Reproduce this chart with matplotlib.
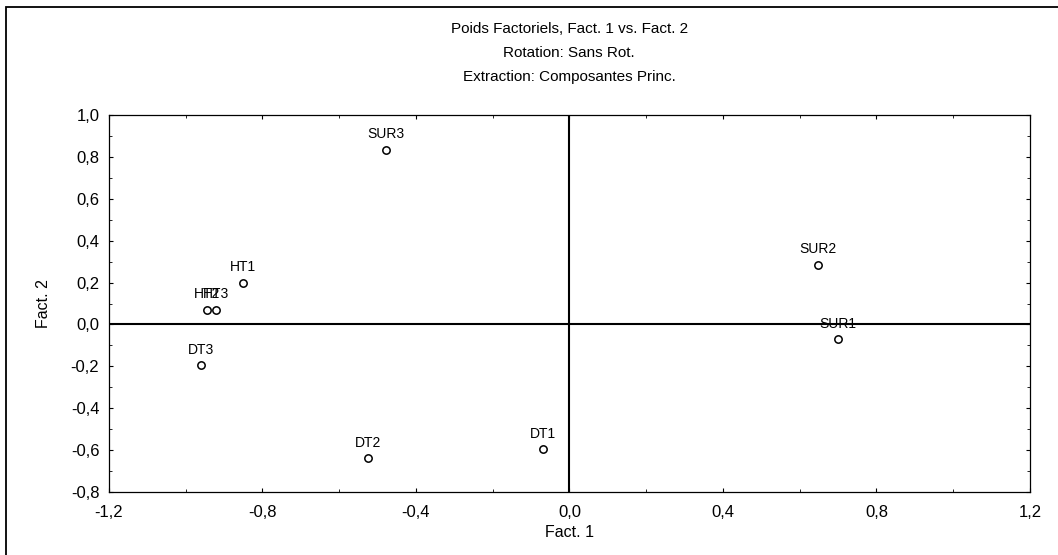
import matplotlib
matplotlib.use('Agg')
import matplotlib.pyplot as plt
from matplotlib.ticker import MultipleLocator, FuncFormatter
from matplotlib.patches import Rectangle

plt.rcParams['font.family'] = ['Liberation Sans', 'DejaVu Sans']

# factor loadings
variables = ['SUR3', 'HT1', 'HT2', 'HT3', 'DT3', 'SUR2', 'SUR1', 'DT1', 'DT2']
fact1 = [-0.478, -0.851, -0.945, -0.922, -0.961, 0.648, 0.700, -0.068, -0.525]
fact2 = [0.835, 0.200, 0.070, 0.070, -0.195, 0.285, -0.070, -0.597, -0.640]

title_lines = ['Poids Factoriels, Fact. 1 vs. Fact. 2',
               'Rotation: Sans Rot.',
               'Extraction: Composantes Princ.']

fig = plt.figure(figsize=(10.58, 5.55), dpi=100)
ax = fig.add_axes([0.103, 0.1135, 0.8705, 0.6793])

# zero reference lines
ax.axhline(0, color='black', lw=1.5, zorder=1)
ax.axvline(0, color='black', lw=1.5, zorder=1)

ax.scatter(fact1, fact2, s=28, facecolors='white', edgecolors='black', linewidths=1.1, zorder=3)
for name, x, y in zip(variables, fact1, fact2):
    ax.annotate(name, (x, y), xytext=(0, 6), textcoords='offset points',
                ha='center', va='bottom', fontsize=10)

ax.set_xlim(-1.2, 1.2)
ax.set_ylim(-0.8, 1.0)
ax.xaxis.set_major_locator(MultipleLocator(0.4))
ax.yaxis.set_major_locator(MultipleLocator(0.2))
ax.xaxis.set_minor_locator(MultipleLocator(0.2))
ax.yaxis.set_minor_locator(MultipleLocator(0.1))
comma = FuncFormatter(lambda v, p: f'{v:.1f}'.replace('.', ',').replace('-0,0', '0,0'))
ax.xaxis.set_major_formatter(comma)
ax.yaxis.set_major_formatter(comma)
ax.tick_params(which='both', direction='in', top=True, right=True, labelsize=12)
ax.tick_params(axis='x', pad=9)
ax.tick_params(axis='y', pad=7)
ax.tick_params(which='major', length=3, width=0.8)
ax.tick_params(which='minor', length=2, width=0.6)
for s in ax.spines.values():
    s.set_linewidth(0.9)

ax.set_xlabel('Fact. 1', fontsize=11.5, labelpad=4)
ax.set_ylabel('Fact. 2', fontsize=11.5, labelpad=14)

for i, line in enumerate(title_lines):
    fig.text(0.538, 0.947 - i * 0.043, line, ha='center', va='center', fontsize=11)

# outer frame of the exported graph
fig.patches.append(Rectangle((0.006, -0.05), 1.2, 1.037, transform=fig.transFigure,
                             fill=False, edgecolor='black', lw=1.3))

fig.savefig('out.png', dpi=100)
